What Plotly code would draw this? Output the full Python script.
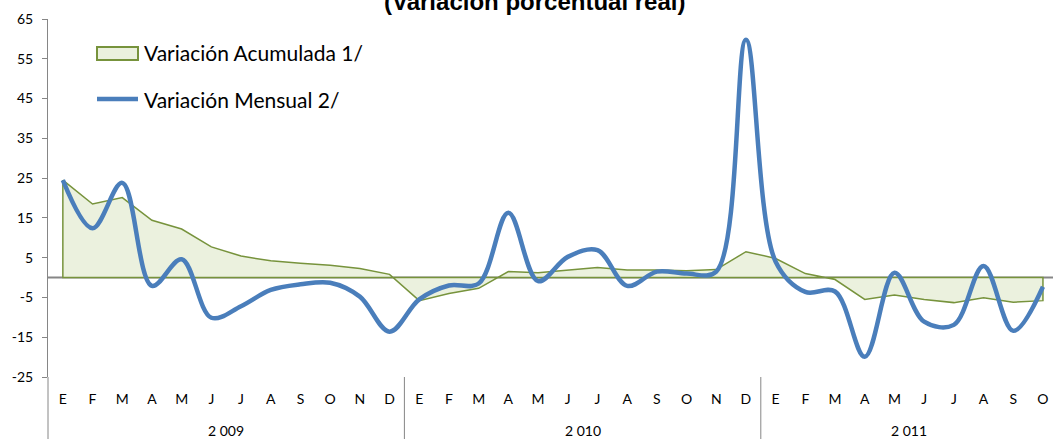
import plotly.graph_objects as go

# ---------------- data ----------------
months_2009 = ["E", "F", "M", "A", "M", "J", "J", "A", "S", "O", "N", "D"]
months_2010 = ["E", "F", "M", "A", "M", "J", "J", "A", "S", "O", "N", "D"]
months_2011 = ["E", "F", "M", "A", "M", "J", "J", "A", "S", "O"]
years = ["2 009", "2 010", "2 011"]

acumulada = [24.5, 18.5, 20.1, 14.4, 12.2, 7.7, 5.4, 4.2, 3.6, 3.1, 2.3, 0.8,
             -5.8, -4.0, -2.7, 1.5, 1.2, 1.9, 2.5, 1.9, 1.9, 1.7, 2.0, 6.5,
             4.8, 1.0, -0.5, -5.5, -4.4, -5.5, -6.3, -5.1, -6.2, -5.8]
mensual = [24.5, 12.4, 23.8, -2.1, 4.6, -10.1, -7.2, -3.1, -1.7, -1.3, -4.8, -13.6,
           -5.5, -2.0, -1.5, 16.3, -0.9, 5.2, 6.9, -2.1, 1.5, 1.0, 1.5, 59.8,
           4.0, -3.6, -3.5, -19.9, 1.2, -11.1, -11.9, 2.9, -13.4, -2.3]

y_ticks = [-25, -15, -5, 5, 15, 25, 35, 45, 55, 65]
y_tick_labels = ["-25", "-15", "-5", "5", "15", "25", "35", "45", "55", "65"]

month_labels = months_2009 + months_2010 + months_2011
x_idx = list(range(len(month_labels)))
year_sizes = [len(months_2009), len(months_2010), len(months_2011)]

title_text = "(Variación porcentual real)"
legend_names = ["Variación Acumulada 1/", "Variación Mensual 2/"]

# ---------------- style ----------------
W, H = 1053, 439
ML, MR, MT, MB = 48, 0, 19, 62
PW, PH = W - ML - MR, H - MT - MB
BLUE = "#4a7ebb"
GREEN = "#77933c"
FILL = "#ebf1de"
AXIS = "#868686"


def px_x(px):
    return (px - ML) / PW


def px_y(py):
    return (H - MB - py) / PH


fig = go.Figure()

# area (closed polygon down to zero so the border outlines it, Excel-style)
area_x = x_idx + [x_idx[-1], x_idx[0], x_idx[0]]
area_y = acumulada + [0, 0, acumulada[0]]
fig.add_trace(go.Scatter(
    x=area_x, y=area_y, mode="lines", fill="toself", fillcolor=FILL,
    line=dict(color=GREEN, width=1.5), name=legend_names[0],
    showlegend=False, hoverinfo="skip"))

fig.add_trace(go.Scatter(
    x=x_idx, y=mensual, mode="lines",
    line=dict(color=BLUE, width=4.5, shape="spline", smoothing=1.0),
    name=legend_names[1], showlegend=False))

shapes = []
# zero (category axis) line
shapes.append(dict(type="line", xref="paper", yref="y", x0=0, x1=1, y0=0, y1=0,
                   line=dict(color=AXIS, width=2), layer="below"))
# extend value axis line through the label area
shapes.append(dict(type="line", xref="paper", yref="paper", x0=0, x1=0,
                   y0=0, y1=px_y(H), line=dict(color=AXIS, width=1)))
# group separators
pos = -0.5
annotations = []
for i, n in enumerate(year_sizes):
    start = pos
    end = pos + n
    annotations.append(dict(x=(start + end) / 2, y=px_y(430), xref="x", yref="paper",
                            text=years[i], showarrow=False, yanchor="middle",
                            font=dict(family="Lato", size=14, color="black")))
    if i < len(year_sizes) - 1:
        shapes.append(dict(type="line", xref="x", yref="paper", x0=end, x1=end,
                           y0=0, y1=px_y(H), line=dict(color=AXIS, width=1)))
    pos = end

# legend (drawn)
shapes.append(dict(type="rect", xref="paper", yref="paper",
                   x0=px_x(97), x1=px_x(138), y0=px_y(60), y1=px_y(47),
                   fillcolor=FILL, line=dict(color=GREEN, width=2)))
shapes.append(dict(type="line", xref="paper", yref="paper",
                   x0=px_x(97), x1=px_x(138), y0=px_y(99), y1=px_y(99),
                   line=dict(color=BLUE, width=4.5)))
annotations.append(dict(x=px_x(142), y=px_y(53), xref="paper", yref="paper",
                        text=legend_names[0], showarrow=False, xanchor="left",
                        yanchor="middle", font=dict(family="Lato", size=21, color="black")))
annotations.append(dict(x=px_x(142), y=px_y(99), xref="paper", yref="paper",
                        text=legend_names[1], showarrow=False, xanchor="left",
                        yanchor="middle", font=dict(family="Lato", size=21, color="black")))
# title (partially cut off at top)
annotations.append(dict(x=px_x(534), y=px_y(1), xref="paper", yref="paper",
                        text="<b>" + title_text + "</b>", showarrow=False,
                        yanchor="middle",
                        font=dict(family="Liberation Sans", size=24, color="black")))

fig.update_layout(
    template="none",
    width=W, height=H,
    margin=dict(l=ML, r=MR, t=MT, b=MB, pad=0, autoexpand=False),
    paper_bgcolor="white", plot_bgcolor="white",
    showlegend=False,
    xaxis=dict(range=[-0.5, -0.5 + PW / 29.7], tickmode="array", tickvals=x_idx,
               ticktext=month_labels, showgrid=False, zeroline=False, showline=False,
               ticks="", ticklabelstandoff=12, automargin=False,
               tickfont=dict(family="Lato", size=14, color="black")),
    yaxis=dict(range=[-25, 65], tickmode="array", tickvals=y_ticks,
               ticktext=y_tick_labels,
               showgrid=False, zeroline=False, showline=True, linecolor=AXIS,
               linewidth=1, ticks="outside", ticklen=5, tickcolor=AXIS,
               ticklabelstandoff=6, automargin=False,
               tickfont=dict(family="Lato", size=14, color="black")),
    shapes=shapes, annotations=annotations,
)

fig.write_html("out.html", config={"displayModeBar": False},
               post_script="document.body.style.margin='0';document.body.style.overflow='hidden';")
